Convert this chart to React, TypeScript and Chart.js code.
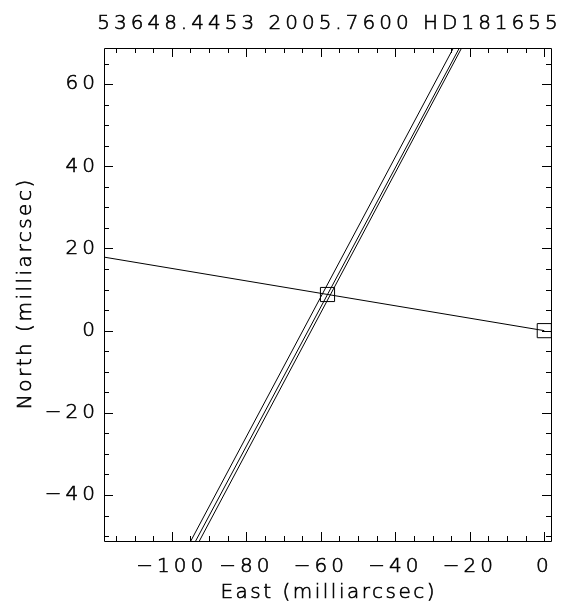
import { useEffect, useRef } from 'react';
import { Chart, registerables } from 'chart.js';

Chart.register(...registerables);

const titleText = '53648.4453 2005.7600 HD181655';
const xAxisTitle = 'East (milliarcsec)';
const yAxisTitle = 'North (milliarcsec)';

const xLimits = [-118.2, 1.8];
const yLimits = [-51.2, 68.8];
const xTickValues = [-100, -80, -60, -40, -20, 0];
const yTickValues = [-40, -20, 0, 20, 40, 60];
const minorStep = 5;

// square markers: companion and primary
const markerX = [-58.2, 0];
const markerY = [8.8, 0];

// line from the primary through the companion
const radialX = [-118.2, 0];
const radialY = [17.9, 0];

// three nearly parallel constraint lines
const lineAX = [-94.9, -24.4];
const lineAY = [-51.2, 68.8];
const lineBX = [-93.6, -22.8];
const lineBY = [-51.2, 68.8];
const lineCX = [-92.6, -22.2];
const lineCY = [-51.2, 68.8];

const FONT = 'DejaVu Sans';
const LS = 4;
const LS_TITLE_AXIS = 2.5;
const STROKE = 0.6;

const pts = (xs: number[], ys: number[]) => xs.map((x, i) => ({ x, y: ys[i] }));
const fmt = (v: number) => (v < 0 ? '\u2212' + Math.abs(v) : String(v));

const framePlugin = {
  id: 'idlFrame',
  beforeLayout(chart: any) {
    chart.ctx.letterSpacing = LS + 'px';
  },
  beforeDraw(chart: any) {
    chart.ctx.letterSpacing = LS + 'px';
  },
  afterDatasetsDraw(chart: any) {
    const { ctx, chartArea: a, scales } = chart;
    const xs = scales.x;
    const ys = scales.y;
    ctx.save();
    ctx.strokeStyle = '#000';
    ctx.lineWidth = 1;
    ctx.beginPath();
    ctx.rect(Math.round(a.left) + 0.5, Math.round(a.top) + 0.5, Math.round(a.right - a.left), Math.round(a.bottom - a.top));
    ctx.stroke();
    ctx.beginPath();
    const startX = Math.ceil(xLimits[0] / minorStep) * minorStep;
    for (let v = startX; v <= xLimits[1]; v += minorStep) {
      const px = Math.round(xs.getPixelForValue(v)) + 0.5;
      const len = v % 20 === 0 ? 9 : 5;
      ctx.moveTo(px, a.bottom);
      ctx.lineTo(px, a.bottom - len);
      ctx.moveTo(px, a.top);
      ctx.lineTo(px, a.top + len);
    }
    const startY = Math.ceil(yLimits[0] / minorStep) * minorStep;
    for (let v = startY; v <= yLimits[1]; v += minorStep) {
      const py = Math.round(ys.getPixelForValue(v)) + 0.5;
      const len = v % 20 === 0 ? 9 : 5;
      ctx.moveTo(a.left, py);
      ctx.lineTo(a.left + len, py);
      ctx.moveTo(a.right, py);
      ctx.lineTo(a.right - len, py);
    }
    ctx.stroke();
    ctx.restore();
  },
  afterDraw(chart: any) {
    const { ctx, chartArea: a } = chart;
    ctx.save();
    ctx.letterSpacing = LS + 'px';
    ctx.fillStyle = '#000';
    ctx.strokeStyle = '#000';
    ctx.lineWidth = STROKE;
    ctx.font = `300 20px "${FONT}"`;
    ctx.textAlign = 'center';
    ctx.textBaseline = 'alphabetic';
    const tx = (a.left + a.right) / 2 + LS / 2;
    ctx.fillText(titleText, tx, 29);
    ctx.strokeText(titleText, tx, 29);
    // axis titles
    ctx.letterSpacing = LS_TITLE_AXIS + 'px';
    ctx.textBaseline = 'middle';
    const ax = (a.left + a.right) / 2 + LS_TITLE_AXIS / 2;
    ctx.fillText(xAxisTitle, ax, 593);
    ctx.strokeText(xAxisTitle, ax, 593);
    ctx.translate(26, (a.top + a.bottom) / 2);
    ctx.rotate(-Math.PI / 2);
    ctx.fillText(yAxisTitle, LS_TITLE_AXIS / 2, 0);
    ctx.strokeText(yAxisTitle, LS_TITLE_AXIS / 2, 0);
    ctx.restore();
  },
};

export default function App() {
  const ref = useRef<HTMLCanvasElement | null>(null);
  useEffect(() => {
    document.body.style.margin = '0';
    const canvas = ref.current;
    if (!canvas) return;
    const lineDs = (xs: number[], ys: number[]) => ({
      data: pts(xs, ys),
      showLine: true,
      borderColor: '#000',
      borderWidth: 1,
      pointRadius: 0,
      fill: false,
    });
    const tickFont = { family: FONT, size: 20, weight: 300 as any };
    const chart = new Chart(canvas, {
      type: 'scatter',
      data: {
        datasets: [
          lineDs(radialX, radialY),
          lineDs(lineAX, lineAY),
          lineDs(lineBX, lineBY),
          lineDs(lineCX, lineCY),
          {
            data: pts(markerX, markerY),
            showLine: false,
            pointStyle: 'rect',
            pointRadius: 10,
            pointBorderColor: '#000',
            pointBackgroundColor: 'rgba(0,0,0,0)',
            pointBorderWidth: 1,
          } as any,
        ],
      },
      options: {
        responsive: false,
        animation: false,
        events: [],
        layout: { padding: { top: 48, right: 24, left: 0, bottom: 0 } },
        plugins: { legend: { display: false }, tooltip: { enabled: false }, title: { display: false } },
        scales: {
          x: {
            type: 'linear',
            min: xLimits[0],
            max: xLimits[1],
            afterBuildTicks: (s: any) => {
              s.ticks = xTickValues.map((v) => ({ value: v }));
            },
            afterFit: (s: any) => {
              s.height = 67;
            },
            ticks: {
              callback: (v: any) => fmt(Number(v)),
              font: tickFont,
              color: '#000',
              textStrokeColor: '#000',
              textStrokeWidth: STROKE,
              padding: 14,
              maxRotation: 0,
              autoSkip: false,
            },
            grid: { display: false, drawTicks: false },
            border: { display: false },
            title: { display: false },
          },
          y: {
            type: 'linear',
            min: yLimits[0],
            max: yLimits[1],
            afterBuildTicks: (s: any) => {
              s.ticks = yTickValues.map((v) => ({ value: v }));
            },
            afterFit: (s: any) => {
              s.width = 104;
            },
            ticks: {
              callback: (v: any) => fmt(Number(v)),
              font: tickFont,
              color: '#000',
              textStrokeColor: '#000',
              textStrokeWidth: STROKE,
              padding: 5,
              autoSkip: false,
            },
            grid: { display: false, drawTicks: false },
            border: { display: false },
            title: { display: false },
          },
        },
      },
      plugins: [framePlugin],
    });
    return () => chart.destroy();
  }, []);
  return (
    <div style={{ width: 575, height: 608 }}>
      <canvas ref={ref} width={575} height={608} style={{ display: 'block' }} />
    </div>
  );
}
